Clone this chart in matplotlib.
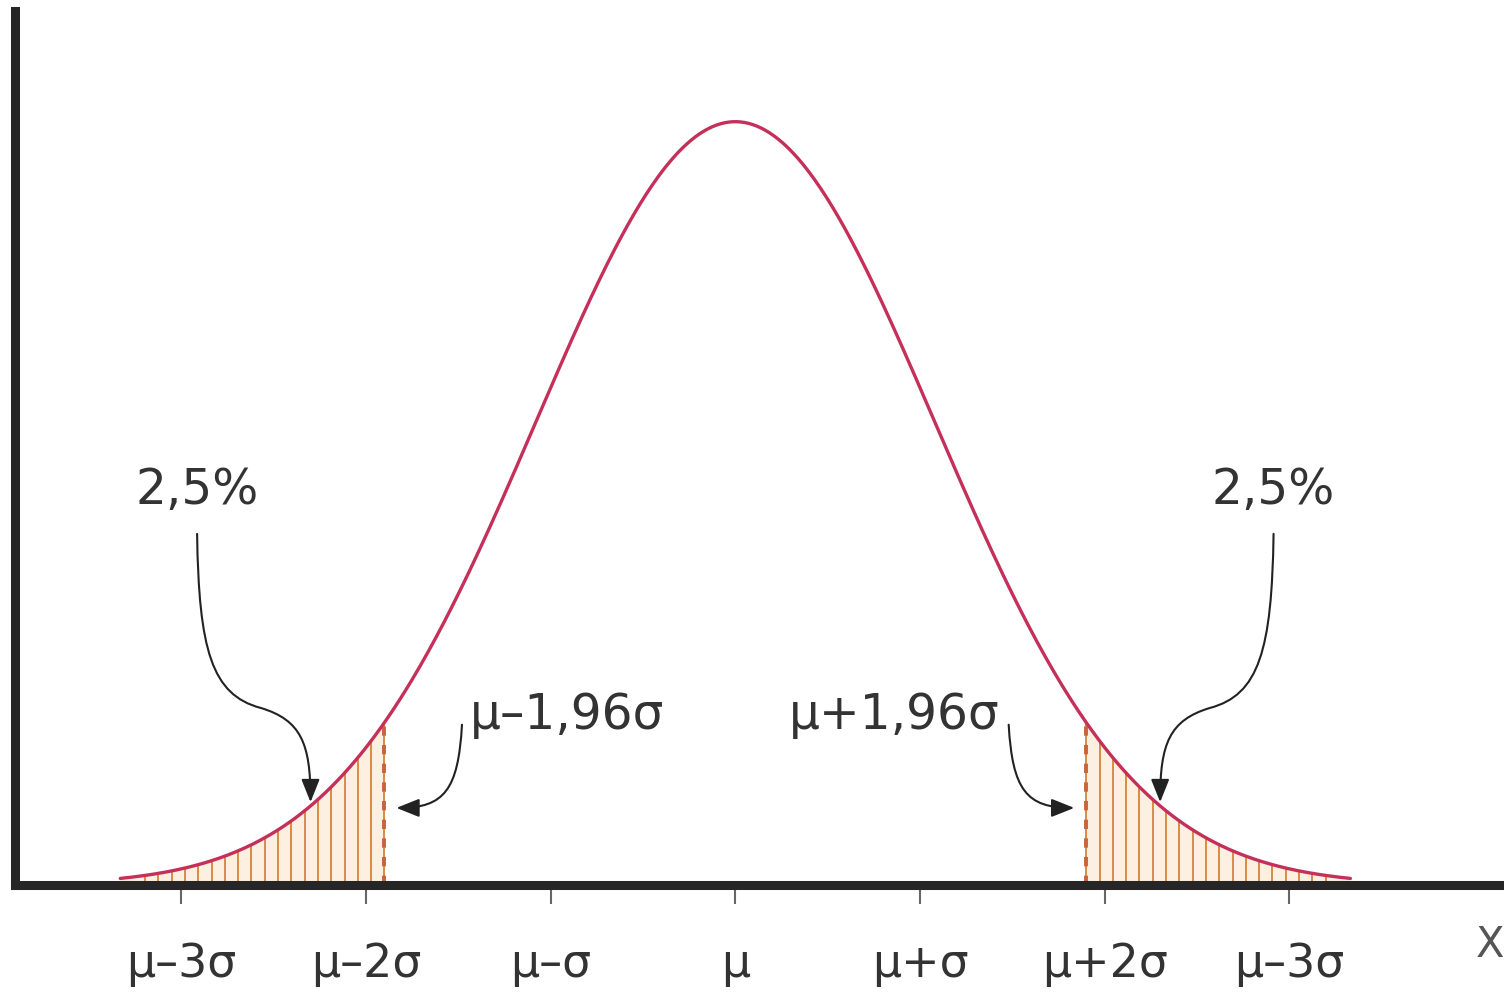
import numpy as np
import matplotlib.pyplot as plt
from matplotlib.path import Path
from matplotlib.patches import FancyArrowPatch

# x is measured in sigma units, centred on mu
tick_pos = [-3, -2, -1, 0, 1, 2, 3]
tick_labels = ["μ–3σ", "μ–2σ", "μ–σ", "μ", "μ+σ", "μ+2σ", "μ–3σ"]
curve_from, curve_to = -3.33, 3.33
curve_spread = 1.08      # spread of the drawn bell (in tick sigmas)
cut = 1.9                # where the dashed limits are drawn
tail_text = "2,5%"
cut_texts = ["μ–1,96σ", "μ+1,96σ"]

RED = "#c4305a"
ORANGE = "#d4843c"
PEACH = "#fdf0e0"
DARK = "#262626"
TXT = "#333333"


def bell(x):
    return np.exp(-0.5 * (np.asarray(x) / curve_spread) ** 2)


fig = plt.figure(figsize=(15.04, 9.97), dpi=100)
ax = fig.add_axes([15 / 1504, 112 / 997, 1485 / 1504, 874 / 997])
ax.set_xlim(-3.90, 4.14)
ax.set_ylim(0, 1.145)

# tails: peach fill + vertical hatch lines
step = 0.072
for side in (-1, 1):
    xt = np.linspace(cut, curve_to, 200) * side
    ax.fill_between(xt, bell(xt), color=PEACH, lw=0, zorder=1)
    xs = np.arange(cut - step, 3.2, step)[1:] * side
    ax.vlines(xs, 0, bell(xs), colors=ORANGE, lw=1.3, zorder=2)

# dashed limits
ax.vlines([-cut, cut], 0, bell(cut), colors="#c8643c", lw=2.8,
          linestyles=(0, (2.4, 2.4)), zorder=2)

x = np.linspace(curve_from, curve_to, 600)
ax.plot(x, bell(x), color=RED, lw=2.4, zorder=3, solid_capstyle="round")

# curved arrows
arrow_kw = dict(arrowstyle="-|>,head_length=0.7,head_width=0.28",
                mutation_scale=20, color="#222222", lw=1.5, zorder=4)
C = [Path.MOVETO, Path.CURVE4, Path.CURVE4, Path.CURVE4,
     Path.CURVE4, Path.CURVE4, Path.CURVE4]
for s in (-1, 1):
    tx = 2.30 * s
    verts = [(2.914 * s, 0.46), (2.905 * s, 0.308), (2.835 * s, 0.249),
             (2.57 * s, 0.232), (2.35 * s, 0.216), (tx, 0.185),
             (tx, bell(tx) + 0.005)]
    ax.add_patch(FancyArrowPatch(path=Path(verts, C), **arrow_kw))

    verts = [(1.48 * s, 0.21), (1.50 * s, 0.125), (1.575 * s, 0.101),
             (1.835 * s, 0.101)]
    ax.add_patch(FancyArrowPatch(path=Path(verts, C[:4]), **arrow_kw))

    ax.text(2.914 * s, 0.518, tail_text, ha="center", va="center",
            fontsize=35, color=TXT)

ax.text(-1.437, 0.223, cut_texts[0], ha="left", va="center", fontsize=35, color=TXT)
ax.text(1.431, 0.223, cut_texts[1], ha="right", va="center", fontsize=35, color=TXT)

# axes look
for k in ("top", "right"):
    ax.spines[k].set_visible(False)
for k in ("left", "bottom"):
    ax.spines[k].set_linewidth(6.5)
    ax.spines[k].set_color(DARK)
ax.set_yticks([])
ax.set_xticks(tick_pos)
ax.set_xticklabels(tick_labels)
ax.tick_params(axis="x", length=14, width=1.5, color="#666666", pad=27,
               labelsize=33, labelcolor=TXT)
fig.text(1490 / 1504, 1 - 945 / 997, "X", fontsize=30, color="#555555",
         ha="center", va="center")

fig.savefig("out.png", dpi=100)
